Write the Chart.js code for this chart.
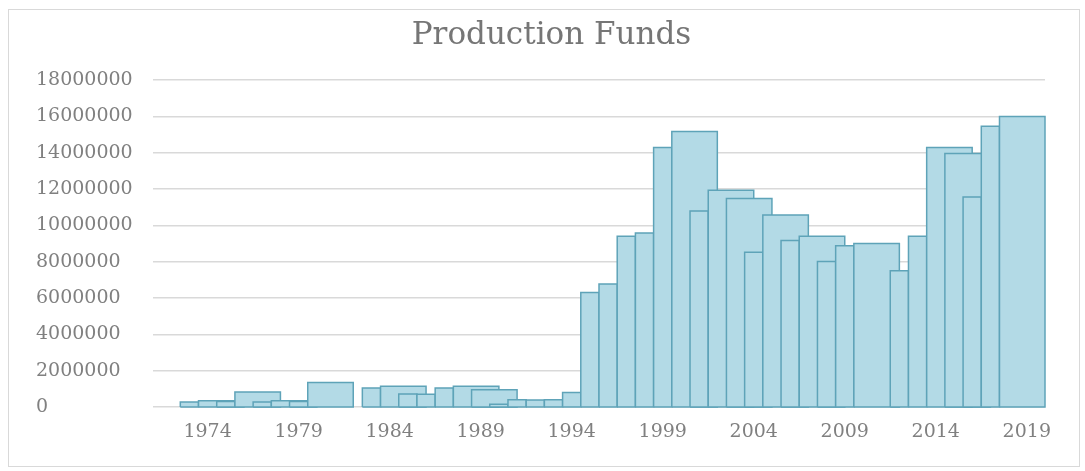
<!DOCTYPE html>
<html>
<head>
<meta charset="utf-8">
<title>Production Funds</title>
<script src="https://cdn.jsdelivr.net/npm/chart.js@4/dist/chart.umd.min.js"></script>
<style>
  html, body { margin: 0; padding: 0; background: #fff; }
  #wrap { position: relative; width: 1085px; height: 471px; }
  /* thin outline round the whole chart, like the Excel chart area */
  #frame { position: absolute; left: 8px; top: 9px; width: 1070px; height: 456px;
           border: 1px solid #d9d9d9; pointer-events: none; }
</style>
</head>
<body>
<div id="wrap">
  <canvas id="myChart" width="1085" height="471"></canvas>
  <div id="frame"></div>
</div>
<script>
// funding year of each column
const years = [1973, 1974, 1975, 1976, 1977, 1978, 1979, 1980, 1983, 1984,
               1985, 1986, 1987, 1988, 1989, 1990, 1991, 1992, 1993, 1994,
               1995, 1996, 1997, 1998, 1999, 2000, 2001, 2002, 2003, 2004,
               2005, 2006, 2007, 2008, 2009, 2010, 2012, 2013, 2014, 2015,
               2016, 2017, 2018];

// production funds for that year
const funds = [270000, 350000, 300000, 820000, 270000, 350000, 300000, 1350000, 1040000, 1140000,
               720000, 700000, 1050000, 1140000, 950000, 150000, 400000, 380000, 400000, 800000,
               6300000, 6780000, 9410000, 9580000, 14290000, 15180000, 10790000, 11940000, 11480000, 8520000,
               10580000, 9170000, 9410000, 8020000, 8880000, 9010000, 7500000, 9410000, 14290000, 13960000,
               11570000, 15460000, 16000000];

// how many years each column covers on the axis
const spans = [1, 2.5, 1, 2.5, 1, 2.5, 1, 2.5, 1, 2.5,
               1, 1, 1, 2.5, 2.5, 1, 1, 1, 1, 1,
               1, 1, 1, 1, 1, 2.5, 1, 2.5, 2.5, 1,
               2.5, 1, 2.5, 1, 1, 2.5, 1, 1, 2.5, 2.5,
               1, 1, 2.5];

const tickYears = [1974, 1979, 1984, 1989, 1994, 1999, 2004, 2009, 2014, 2019];
const yMax = 18000000;
const yStep = 2000000;

const textColor = '#808080';
Chart.defaults.font.family = "'DejaVu Serif', serif";

// every column is a closed outline filled as a shape, later years drawn on top
const datasets = years.map((year, i) => {
  const x0 = year - 0.5;
  const x1 = x0 + spans[i];
  return {
    label: String(year),
    data: [
      { x: x0, y: 0 },
      { x: x0, y: funds[i] },
      { x: x1, y: funds[i] },
      { x: x1, y: 0 },
      { x: x0, y: 0 }
    ],
    order: years.length - i,
    fill: 'shape',
    backgroundColor: '#b3dae6',
    borderColor: '#5ea3b8',
    borderWidth: 1.5,
    borderJoinStyle: 'miter',
    tension: 0,
    pointRadius: 0,
    pointHitRadius: 0,
    clip: 4
  };
});

const ctx = document.getElementById('myChart');

new Chart(ctx, {
  type: 'line',
  data: { datasets },
  options: {
    responsive: false,
    animation: false,
    events: [],
    layout: { padding: { left: 36, right: 18, top: 9, bottom: 24 } },
    plugins: {
      legend: { display: false },
      tooltip: { enabled: false },
      title: {
        display: true,
        text: 'Production Funds',
        color: '#767676',
        font: { size: 31, weight: 'normal' },
        padding: { top: 8, bottom: 26 }
      }
    },
    scales: {
      x: {
        type: 'linear',
        min: 1971,
        max: 2020,
        afterBuildTicks: scale => { scale.ticks = tickYears.map(v => ({ value: v })); },
        ticks: {
          autoSkip: false,
          maxRotation: 0,
          padding: 14,
          color: textColor,
          font: { size: 19 },
          callback: v => String(v)
        },
        grid: { display: false, drawTicks: false },
        border: { display: false },
        afterFit: scale => { scale.height = 40; }
      },
      y: {
        min: 0,
        max: yMax,
        ticks: {
          stepSize: yStep,
          crossAlign: 'far',
          padding: 0,
          color: textColor,
          font: { size: 19 },
          callback: v => String(v)
        },
        grid: { color: '#d9d9d9', lineWidth: 1.5, drawTicks: false },
        border: { display: false },
        afterFit: scale => { scale.width = 117; }
      },
      // empty right-hand box so the plot ends where Excel's does and the title stays centred
      spacer: {
        position: 'right',
        grid: { display: false, drawTicks: false },
        border: { display: false },
        ticks: { display: false },
        afterFit: scale => { scale.width = 22; }
      }
    }
  }
});
</script>
</body>
</html>
